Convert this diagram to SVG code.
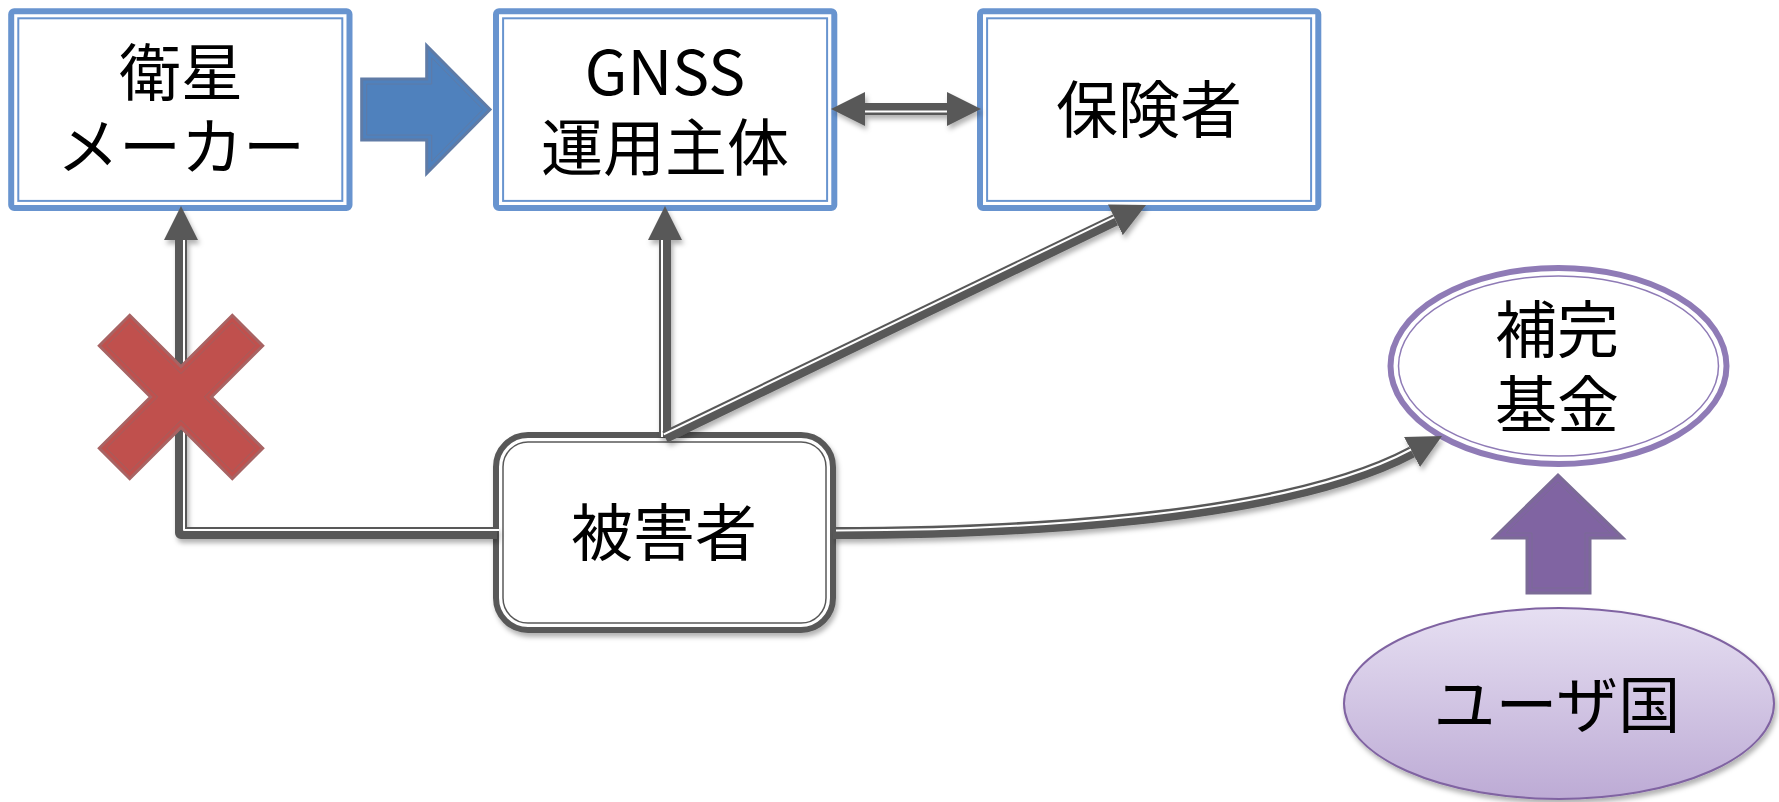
<svg xmlns="http://www.w3.org/2000/svg" width="1779" height="802" viewBox="0 0 1779 802">
  <defs>
    <style>
      .lbl { font-family: "Noto Sans CJK JP", "Noto Sans", sans-serif; font-size: 62px; fill: #000; text-anchor: middle; }
      .boxOuter { fill: #fff; stroke: #6894CF; stroke-width: 6; }
      .boxInner { fill: none; stroke: #6894CF; stroke-width: 2; }
      .conn { fill: none; stroke: #595959; stroke-width: 12; stroke-linejoin: round; }
      .connInner { fill: none; stroke: #fff; stroke-width: 2; stroke-linejoin: round; }
    </style>
    <marker id="ah" markerUnits="userSpaceOnUse" viewBox="0 0 34 34" refX="0" refY="17" markerWidth="34" markerHeight="34" orient="auto">
      <path d="M0,0 L34,17 L0,34 z" fill="#595959"/>
    </marker>
    <marker id="ahStart" markerUnits="userSpaceOnUse" viewBox="0 0 34 34" refX="0" refY="17" markerWidth="34" markerHeight="34" orient="auto-start-reverse">
      <path d="M0,0 L34,17 L0,34 z" fill="#595959"/>
    </marker>
    <filter id="shadow" x="-10%" y="-10%" width="120%" height="130%">
      <feDropShadow dx="2" dy="4" stdDeviation="2.5" flood-color="#000" flood-opacity="0.3"/>
    </filter>
    <linearGradient id="userFill" x1="0" y1="0" x2="0" y2="1">
      <stop offset="0" stop-color="#E6DFF2"/>
      <stop offset="1" stop-color="#BDABD5"/>
    </linearGradient>
  </defs>

  <rect width="1779" height="802" fill="#fff"/>

  <!-- satellite maker -->
  <g id="maker">
    <rect class="boxOuter" x="11.2" y="11.2" width="338.3" height="196.7" rx="3"/>
    <rect class="boxInner" x="18.3" y="18.3" width="324" height="182.6"/>
    <text class="lbl"><tspan x="181" y="96">衛星</tspan><tspan x="181" y="170">メーカー</tspan></text>
  </g>

  <!-- GNSS operator -->
  <g id="operator">
    <rect class="boxOuter" x="496" y="11.2" width="338.3" height="196.7" rx="3"/>
    <rect class="boxInner" x="503.1" y="18.3" width="324" height="182.6"/>
    <text class="lbl"><tspan x="665" y="95">GNSS</tspan><tspan x="665" y="171">運用主体</tspan></text>
  </g>

  <!-- insurer -->
  <g id="insurer">
    <rect class="boxOuter" x="980" y="11.2" width="338.3" height="196.7" rx="3"/>
    <rect class="boxInner" x="987.1" y="18.3" width="324" height="182.6"/>
    <text class="lbl" x="1149" y="133">保険者</text>
  </g>

  <!-- victim -->
  <g id="victim" filter="url(#shadow)">
    <rect x="496" y="435" width="337" height="195" rx="32" fill="#fff" stroke="#595959" stroke-width="6"/>
    <rect x="503" y="442" width="323" height="181" rx="25" fill="none" stroke="#595959" stroke-width="1.5"/>
    <text class="lbl" x="664" y="556">被害者</text>
  </g>

  <!-- supplementary fund -->
  <g id="fund">
    <ellipse cx="1558.5" cy="366" rx="168" ry="98" fill="#fff" stroke="#8F7BB6" stroke-width="6"/>
    <ellipse cx="1558.5" cy="366" rx="160" ry="90" fill="none" stroke="#8F7BB6" stroke-width="1.5"/>
    <text class="lbl"><tspan x="1557" y="353">補完</tspan><tspan x="1557" y="428">基金</tspan></text>
  </g>

  <!-- user states -->
  <g id="users">
    <ellipse cx="1559" cy="703.5" rx="215" ry="95.5" fill="url(#userFill)" stroke="#8064A2" stroke-width="2" filter="url(#shadow)"/>
    <text class="lbl" x="1557" y="728">ユーザ国</text>
  </g>

  <!-- block arrow: maker to operator -->
  <g id="supply-arrow">
    <polygon points="361.7,79 426.7,79 426.7,45.7 490,109.5 426.7,173.3 426.7,140 361.7,140" fill="#4F81BD" stroke="#5F7BA6" stroke-width="3"/>
    <polygon points="366.7,84 431.7,84 431.7,57.8 482.9,109.5 431.7,161.2 431.7,135 366.7,135" fill="none" stroke="#5F7BA6" stroke-width="1"/>
  </g>

  <!-- block arrow: user states to fund -->
  <g id="contribution-arrow">
    <polygon points="1558,475 1623,538 1590,538 1590,593 1527,593 1527,538 1494,538" fill="#8064A2" stroke="#7B6B96" stroke-width="3"/>
    <polygon points="1558,482 1610,533 1585,533 1585,588 1532,588 1532,533 1506,533" fill="none" stroke="#7B6B96" stroke-width="1"/>
  </g>

  <!-- connectors -->
  <g id="connectors" filter="url(#shadow)">
    <!-- victim to maker (blocked) -->
    <path class="conn" d="M497,533 L181,533 L181,240" marker-end="url(#ah)"/>
    <path class="connInner" d="M499,530 L184,530 L184,240"/>
    <!-- victim to operator -->
    <path class="conn" d="M665,437 L665,240" marker-end="url(#ah)"/>
    <path class="connInner" d="M662,437 L662,240"/>
    <!-- victim to insurer -->
    <path class="conn" d="M665,437 L1115.4,219.8" marker-end="url(#ah)"/>
    <path class="connInner" d="M663.7,434.3 L1114.1,217.1"/>
    <!-- operator and insurer -->
    <path class="conn" d="M865,109 L947,109" marker-start="url(#ahStart)" marker-end="url(#ah)"/>
    <path class="connInner" d="M865,111.5 L947,111.5"/>
    <!-- victim to fund -->
    <path class="conn" d="M833,533 C1000,533 1280,522 1412,452" marker-end="url(#ah)"/>
    <path class="connInner" d="M836,530.5 C1000,530.5 1280,519.5 1411,449.5"/>
  </g>

  <!-- blocked mark -->
  <g id="blocked" transform="translate(181,397)">
    <polygon points="-51.3,-81.7 0,-30.4 51.3,-81.7 81.7,-51.3 30.4,0 81.7,51.3 51.3,81.7 0,30.4 -51.3,81.7 -81.7,51.3 -30.4,0 -81.7,-51.3" fill="#C0504D" stroke="#A86363" stroke-width="3"/>
    <polygon points="-51.2,-74.6 0,-23.4 51.2,-74.6 74.6,-51.2 23.4,0 74.6,51.2 51.2,74.6 0,23.4 -51.2,74.6 -74.6,51.2 -23.4,0 -74.6,-51.2" fill="none" stroke="#A05F5F" stroke-width="1"/>
  </g>
</svg>
